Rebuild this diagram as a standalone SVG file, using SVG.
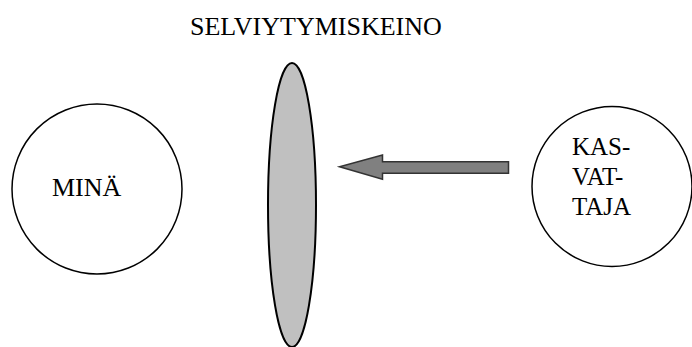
<svg xmlns="http://www.w3.org/2000/svg" width="692" height="347" viewBox="0 0 692 347">
<style>
text{font-family:'Liberation Serif','Times New Roman',serif;fill:#000}
.node{fill:#fff;stroke:#000;stroke-width:1.5}
</style>
<rect width="692" height="347" fill="#fff"/>
<text x="190" y="35" font-size="26">SELVIYTYMISKEINO</text>
<g id="mina">
<circle class="node" cx="97" cy="189" r="85"/>
<text x="52" y="196" font-size="26">MINÄ</text>
</g>
<g id="selviytymiskeino">
<ellipse cx="292" cy="205" rx="24" ry="142" fill="#c0c0c0" stroke="#000" stroke-width="2"/>
</g>
<g id="kasvattaja">
<circle class="node" cx="612" cy="186.5" r="80"/>
<text font-size="25"><tspan x="572" y="155">KAS-</tspan><tspan x="572" y="185">VAT-</tspan><tspan x="572" y="215">TAJA</tspan></text>
</g>
<g id="connectors">
<polygon points="508.5,161.7 382.5,161.7 382.5,155 339.5,166.7 382.5,179.3 382.5,173.3 508.5,173.3" fill="#808080" stroke="#333" stroke-width="1.5"/>
</g>
</svg>
